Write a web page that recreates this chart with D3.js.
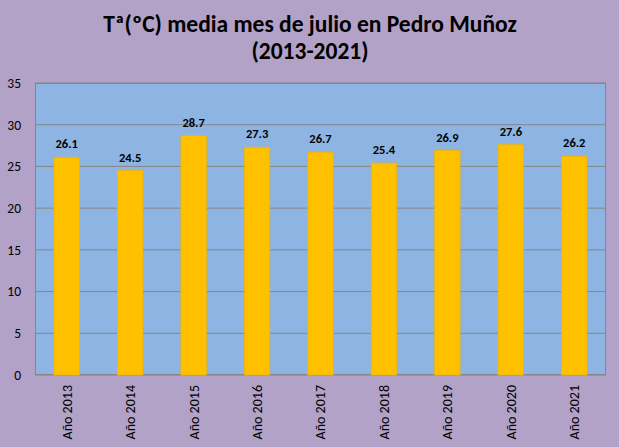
<!DOCTYPE html>
<html><head><meta charset="utf-8">
<script src="https://cdn.jsdelivr.net/npm/d3@7"></script>
<style>body{margin:0;background:#B3A2C7;}svg{display:block;}</style>
</head><body>
<script>
const categories = ["Año 2013","Año 2014","Año 2015","Año 2016","Año 2017","Año 2018","Año 2019","Año 2020","Año 2021"];
const values = [26.1,24.5,28.7,27.3,26.7,25.4,26.9,27.6,26.2];
const yTicks = [0,5,10,15,20,25,30,35];
const titleLines = ["Tª(ºC) media mes de julio en Pedro Muñoz","(2013-2021)"];

const W=619,H=447;
const m={left:35,right:13,top:83,bottom:72};
const svg=d3.select("body").append("svg").attr("width",W).attr("height",H);
svg.append("rect").attr("width",W).attr("height",H).attr("fill","#B3A2C7");
const font="Carlito, Calibri, Lato, 'Open Sans', sans-serif";

const x=d3.scaleBand().domain(categories).range([m.left,W-m.right]).padding(0);
const y=d3.scaleLinear().domain([0,35]).range([H-m.bottom,m.top]);

svg.append("rect").attr("x",m.left).attr("y",m.top).attr("width",W-m.right-m.left).attr("height",H-m.bottom-m.top).attr("fill","#8DB4E2");

const g=svg.append("g");
g.selectAll("line.grid").data(yTicks).join("line").attr("class","grid")
 .attr("x1",m.left).attr("x2",W-m.right).attr("y1",d=>y(d)).attr("y2",d=>y(d))
 .attr("stroke","#868686").attr("stroke-width",1);

svg.append("rect").attr("x",m.left+0.5).attr("y",m.top+0.5).attr("width",W-m.right-m.left-1).attr("height",H-m.bottom-m.top-1).attr("fill","none").attr("stroke","#868686");

const bw=x.bandwidth()*0.4;
svg.selectAll("rect.bar").data(values).join("rect").attr("class","bar")
 .attr("x",(d,i)=>x(categories[i])+x.bandwidth()/2-bw/2)
 .attr("y",d=>y(d)).attr("width",bw).attr("height",d=>y(0)-y(d))
 .attr("fill","#FFC000").attr("stroke","#F2B400").attr("stroke-width",0.8);

svg.selectAll("text.lbl").data(values).join("text").attr("class","lbl")
 .attr("x",(d,i)=>x(categories[i])+x.bandwidth()/2).attr("y",d=>y(d)-9)
 .attr("text-anchor","middle").attr("font-family",font).attr("font-weight","bold").attr("font-size",12.5)
 .attr("fill","#000").text(d=>d.toFixed(1));

// y axis
const ya=d3.axisLeft(y).tickValues(yTicks).tickSize(0).tickPadding(0);
const yg=svg.append("g").attr("transform",`translate(${m.left-14},0)`).call(ya);
yg.select(".domain").remove();
yg.selectAll("text").attr("font-family",font).attr("font-size",13.5).attr("fill","#000");

// x axis
const xa=d3.axisBottom(x).tickSize(0);
const xg=svg.append("g").attr("transform",`translate(0,${H-m.bottom})`).call(xa);
xg.select(".domain").remove();
xg.selectAll("text").attr("font-family",font).attr("font-size",14).attr("fill","#000")
 .attr("transform","rotate(-90)").attr("text-anchor","end").attr("dy","0.35em").attr("x",-10).attr("y",0);

svg.selectAll("text.title").data(titleLines).join("text").attr("class","title")
 .attr("x",310).attr("y",(d,i)=>32+i*27).attr("text-anchor","middle")
 .attr("font-family",font).attr("font-weight","bold").attr("font-size",23.5).attr("fill","#000").text(d=>d);
</script>
</body></html>
